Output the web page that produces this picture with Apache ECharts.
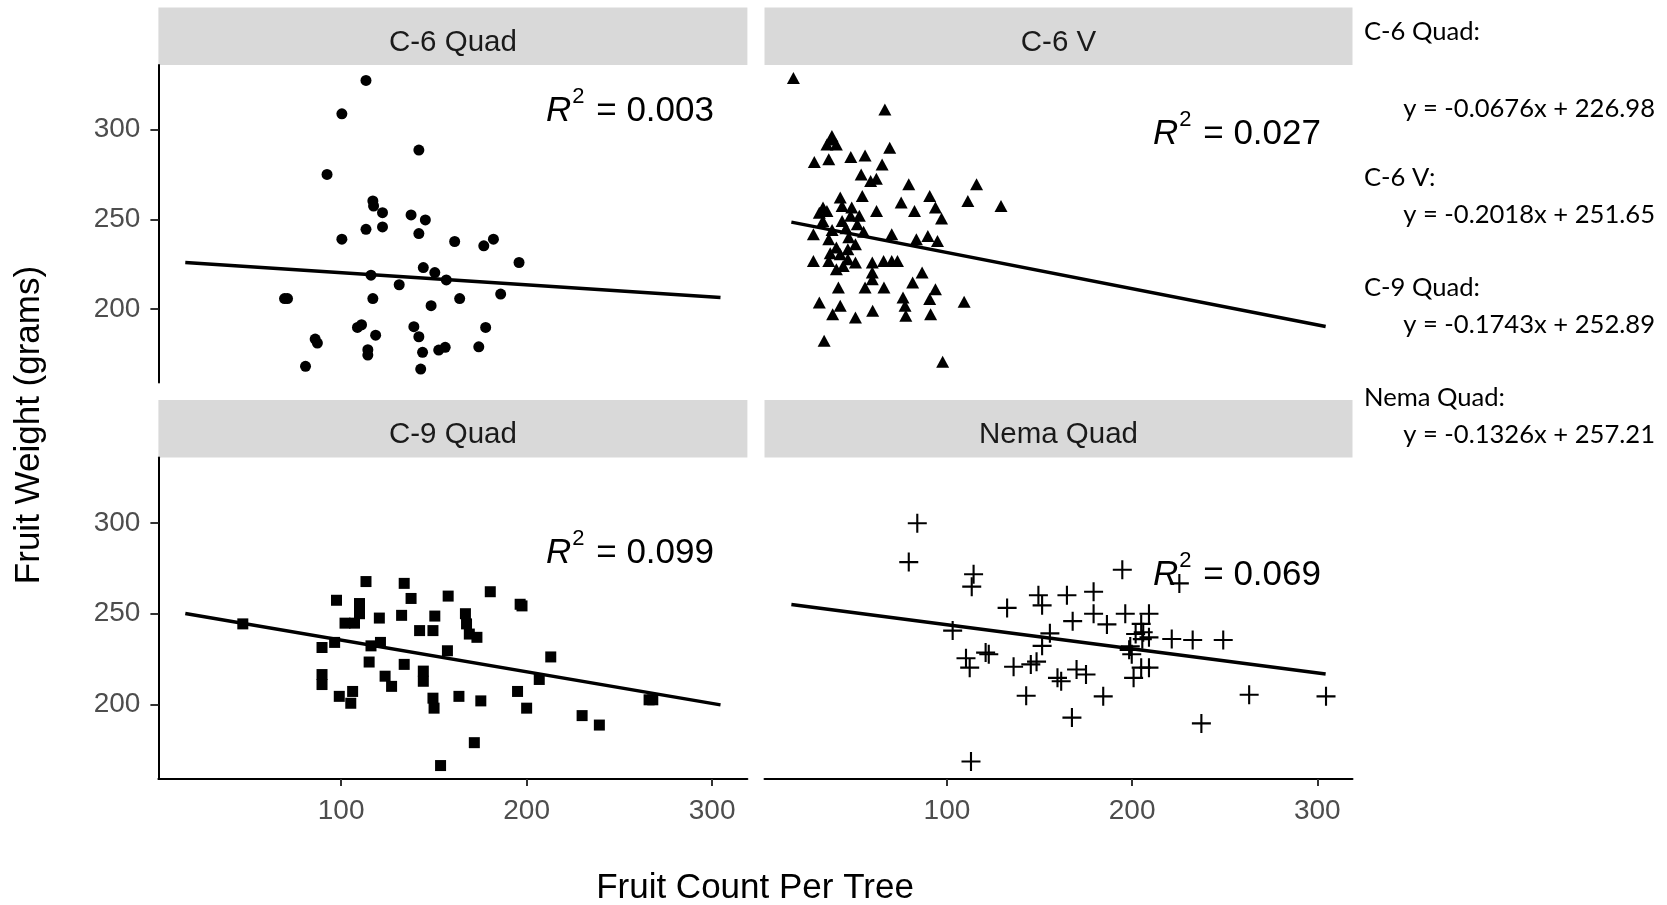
<!DOCTYPE html>
<html>
<head>
<meta charset="utf-8">
<script src="https://cdn.jsdelivr.net/npm/echarts@6/dist/echarts.min.js"></script>
<style>
html,body{margin:0;padding:0;background:#fff;}
#chart{width:1667px;height:905px;}
</style>
</head>
<body>
<div id="chart"></div>
<script>
// ---------- DATA ----------
const panelNames = ['C-6 Quad', 'C-6 V', 'C-9 Quad', 'Nema Quad'];
const r2Labels = ['0.003', '0.027', '0.099', '0.069'];
const equationLabels = ['y = -0.0676x + 226.98', 'y = -0.2018x + 251.65', 'y = -0.1743x + 252.89', 'y = -0.1326x + 257.21'];
const xTickValues = [100, 200, 300];
const yTickValues = [200, 250, 300];
const xTitle = 'Fruit Count Per Tree';
const yTitle = 'Fruit Weight (grams)';

// points: [fruit count, fruit weight]
const c6QuadPoints = [[113.4,327.4],[100.4,308.8],[141.9,288.6],[92.4,275.0],[117.1,260.2],[117.5,257.4],[122.3,253.7],[137.7,252.4],[145.4,249.6],[122.3,245.7],[113.4,244.4],[141.9,242.0],[100.4,238.9],[161.2,237.6],[182.1,238.9],[176.9,235.2],[195.9,225.9],[144.3,223.1],[150.5,220.3],[116.1,218.8],[156.7,216.2],[131.3,213.5],[71.1,205.8],[69.5,205.8],[117.1,205.8],[186.0,208.3],[163.9,205.8],[148.5,201.8],[108.8,189.7],[111.0,191.2],[118.6,185.4],[139.2,190.1],[141.9,184.5],[177.9,189.7],[86.0,183.2],[87.2,181.0],[114.4,177.3],[114.4,174.3],[143.9,175.8],[152.6,177.1],[156.1,178.6],[174.2,178.9],[80.8,168.0],[142.9,166.5]];

const c6VPoints = [[17.1,328.8],[66.5,311.2],[37.2,294.5],[35.2,291.7],[40.3,291.7],[37.9,296.4],[69.1,289.9],[28.4,281.9],[36.2,283.4],[48.1,284.7],[55.8,285.6],[65.0,280.6],[53.7,275.0],[58.8,271.3],[61.9,272.6],[79.4,269.5],[116.0,269.5],[42.4,262.1],[54.3,263.0],[90.7,263.0],[33.1,256.5],[35.2,254.6],[31.1,253.7],[62.0,254.6],[75.3,259.3],[82.5,254.6],[93.8,256.5],[111.3,260.2],[129.2,257.4],[97.1,250.4],[43.4,257.4],[48.6,256.5],[52.7,251.9],[43.4,249.1],[51.6,247.2],[27.9,241.7],[36.2,238.9],[70.2,241.7],[83.5,238.9],[89.7,240.7],[94.9,237.9],[40.3,234.2],[46.5,233.3],[50.6,236.1],[27.9,226.8],[36.2,226.8],[42.4,230.5],[46.5,227.7],[50.6,225.9],[40.3,222.2],[59.7,225.9],[65.8,226.8],[70.2,226.8],[73.3,226.8],[59.7,220.3],[59.7,216.6],[86.6,220.3],[41.4,212.0],[55.8,212.0],[66.0,212.0],[81.5,214.7],[93.8,211.0],[31.1,203.6],[42.4,201.8],[38.3,197.1],[50.6,195.3],[59.9,199.0],[76.3,206.4],[77.4,201.8],[77.8,196.2],[90.7,205.5],[91.2,197.1],[109.3,204.0],[33.7,182.3],[97.7,170.6],[45.5,245.0],[38.0,244.0],[47.0,240.0],[55.0,243.0],[33.0,249.0],[44.0,224.0],[37.0,231.0],[48.0,252.0]];

const c9QuadPoints = [[47.0,244.4],[113.4,267.7],[97.5,257.4],[134.0,266.7],[137.7,258.4],[157.7,259.7],[180.4,262.1],[196.5,255.2],[197.5,254.3],[109.9,255.6],[109.9,250.0],[120.6,247.6],[132.6,249.1],[102.1,244.8],[107.2,244.8],[150.5,248.7],[167.0,250.0],[167.6,244.4],[142.3,240.7],[149.5,240.7],[169.1,238.8],[173.2,237.0],[89.7,231.4],[96.5,234.2],[116.1,232.3],[121.2,234.2],[157.3,229.6],[115.1,223.4],[134.0,222.1],[213.0,226.2],[89.7,216.5],[89.7,211.0],[123.7,215.6],[127.2,210.0],[144.3,218.4],[144.3,212.8],[206.8,213.8],[99.0,204.5],[106.2,207.2],[105.2,200.7],[149.5,203.5],[150.1,198.0],[163.5,204.5],[175.3,202.0],[195.1,207.2],[200.0,198.0],[229.9,193.9],[239.2,188.7],[266.0,202.6],[268.0,202.6],[171.8,179.0],[153.6,166.4]];

const nemaQuadPoints = [[84.0,299.8],[79.4,278.4],[114.4,271.7],[113.4,264.9],[194.7,274.2],[225.5,266.7],[132.5,253.2],[149.4,260.2],[151.4,254.6],[164.8,260.2],[179.2,262.1],[179.2,250.0],[167.9,245.9],[186.4,244.1],[196.3,250.0],[209.1,250.0],[204.9,244.4],[206.0,239.8],[201.9,238.8],[209.1,237.0],[221.4,236.1],[232.7,235.5],[249.2,235.5],[103.1,240.7],[155.6,239.2],[151.4,232.3],[198.4,230.1],[199.8,227.7],[110.3,225.5],[112.3,220.3],[120.9,228.6],[122.6,227.7],[136.0,220.8],[145.3,222.1],[148.4,223.6],[159.7,214.7],[161.7,212.8],[170.0,219.3],[175.1,216.5],[204.9,220.3],[209.1,220.3],[200.8,214.7],[142.8,204.8],[184.4,204.5],[263.2,205.4],[304.7,204.5],[167.5,192.8],[237.4,189.6],[113.0,168.6],[205.5,236.0],[199.0,232.0]];

// fitted line end points [count, weight]
const c6QuadFit = [[16, 225.9], [304.5, 206.4]];
const c6VFit = [[16, 248.4], [304.5, 190.2]];
const c9QuadFit = [[16, 250.1], [304.5, 199.8]];
const nemaQuadFit = [[16, 255.1], [304.5, 216.8]];

// ---------- LAYOUT ----------
const FONT = '"Liberation Sans", Arial, sans-serif';
const panels = [
  {left: 158.4, top: 65, width: 589, height: 317.5},
  {left: 764.5, top: 65, width: 588, height: 317.5},
  {left: 158.4, top: 457.5, width: 589, height: 321.5},
  {left: 764.5, top: 457.5, width: 588, height: 321.5}
];
const stripH = 57.5;
const X_MIN = 1.5, X_MAX = 319, Y_MIN = 159, Y_MAX = 336;

const pointSets = [c6QuadPoints, c6VPoints, c9QuadPoints, nemaQuadPoints];
const fitSets = [c6QuadFit, c6VFit, c9QuadFit, nemaQuadFit];
const crossPath = 'path://M-1,-9L1,-9L1,-1L9,-1L9,1L1,1L1,9L-1,9L-1,1L-9,1L-9,-1L-1,-1Z';
const symbols = ['circle', 'triangle', 'rect', crossPath];
const symbolSizes = [11, [13, 12], 11, 19];

const grids = panels.map(p => ({left: p.left, top: p.top, width: p.width, height: p.height, containLabel: false}));

const xAxes = panels.map((p, i) => {
  const bottom = i >= 2;
  return {
    type: 'value', gridIndex: i, min: X_MIN, max: X_MAX,
    splitLine: {show: false},
    axisLine: {show: bottom, onZero: false, lineStyle: {color: '#000', width: 2}},
    axisTick: {show: bottom, length: 7, customValues: xTickValues, lineStyle: {color: '#333', width: 2}},
    axisLabel: {show: bottom, customValues: xTickValues, margin: 18, color: '#4D4D4D', fontSize: 28, fontFamily: FONT}
  };
});
const yAxes = panels.map((p, i) => {
  const left = i % 2 === 0;
  return {
    type: 'value', gridIndex: i, min: Y_MIN, max: Y_MAX,
    splitLine: {show: false},
    axisLine: {show: left, onZero: false, lineStyle: {color: '#000', width: 2}},
    axisTick: {show: left, length: 8, customValues: yTickValues, lineStyle: {color: '#333', width: 2}},
    axisLabel: {show: left, customValues: yTickValues, margin: 18, color: '#4D4D4D', fontSize: 28, fontFamily: FONT}
  };
});

const series = [];
pointSets.forEach((pts, i) => {
  series.push({
    type: 'line', xAxisIndex: i, yAxisIndex: i, data: fitSets[i],
    symbol: 'none', silent: true, z: 3,
    lineStyle: {color: '#000', width: 3.5}
  });
  series.push({
    type: 'scatter', xAxisIndex: i, yAxisIndex: i, data: pts,
    symbol: symbols[i], symbolSize: symbolSizes[i], z: 4,
    itemStyle: {color: '#000', opacity: 1}
  });
});

const graphic = [];
panels.forEach((p, i) => {
  graphic.push({type: 'rect', shape: {x: p.left, y: p.top - stripH, width: p.width, height: stripH},
    style: {fill: '#D9D9D9'}, silent: true});
  graphic.push({type: 'text', x: p.left + p.width / 2, y: p.top - stripH / 2 + 6.5,
    style: {text: panelNames[i], fill: '#1A1A1A', font: '29.5px ' + FONT, textAlign: 'center', textVerticalAlign: 'middle'}});
});
const r2Pos = [[546, 107], [1153, 130], [546, 549], [1153, 571]];
r2Pos.forEach((pos, i) => {
  graphic.push({type: 'text', x: pos[0], y: pos[1], z: 10,
    style: {
      text: '{r|R}{s|2}{n| = ' + r2Labels[i] + '}',
      textVerticalAlign: 'middle', textAlign: 'left',
      rich: {
        r: {fontFamily: FONT, fontSize: 35, lineHeight: 43, fontStyle: 'italic', fill: '#000', color: '#000', verticalAlign: 'bottom'},
        s: {fontFamily: FONT, fontSize: 22, lineHeight: 22, fill: '#000', color: '#000', verticalAlign: 'top', padding: [0, 2, 0, 1]},
        n: {fontFamily: FONT, fontSize: 35, lineHeight: 43, fill: '#000', color: '#000', verticalAlign: 'bottom'}
      }
    }});
});
graphic.push({type: 'text', x: 755, y: 888,
  style: {text: xTitle, fill: '#000', font: '35px ' + FONT, textAlign: 'center', textVerticalAlign: 'middle'}});
graphic.push({type: 'text', x: 29, y: 425, rotation: Math.PI / 2,
  style: {text: yTitle, fill: '#000', font: '35px ' + FONT, textAlign: 'center', textVerticalAlign: 'middle'}});

const ANN_FONT = '25.6px Lato, "Open Sans", sans-serif';
const headY = [32, 178, 287.5, 398];
const eqY = [108.5, 214.5, 324.5, 435];
panelNames.forEach((n, i) => {
  graphic.push({type: 'text', x: 1364, y: headY[i],
    style: {text: n + ':', fill: '#000', font: ANN_FONT, textAlign: 'left', textVerticalAlign: 'middle'}});
  graphic.push({type: 'text', x: 1655, y: eqY[i],
    style: {text: equationLabels[i], fill: '#000', font: ANN_FONT, textAlign: 'right', textVerticalAlign: 'middle'}});
});

const chart = echarts.init(document.getElementById('chart'), null, {renderer: 'canvas'});
chart.setOption({
  animation: false,
  backgroundColor: '#fff',
  grid: grids, xAxis: xAxes, yAxis: yAxes, series: series, graphic: graphic
});
</script>
</body>
</html>
